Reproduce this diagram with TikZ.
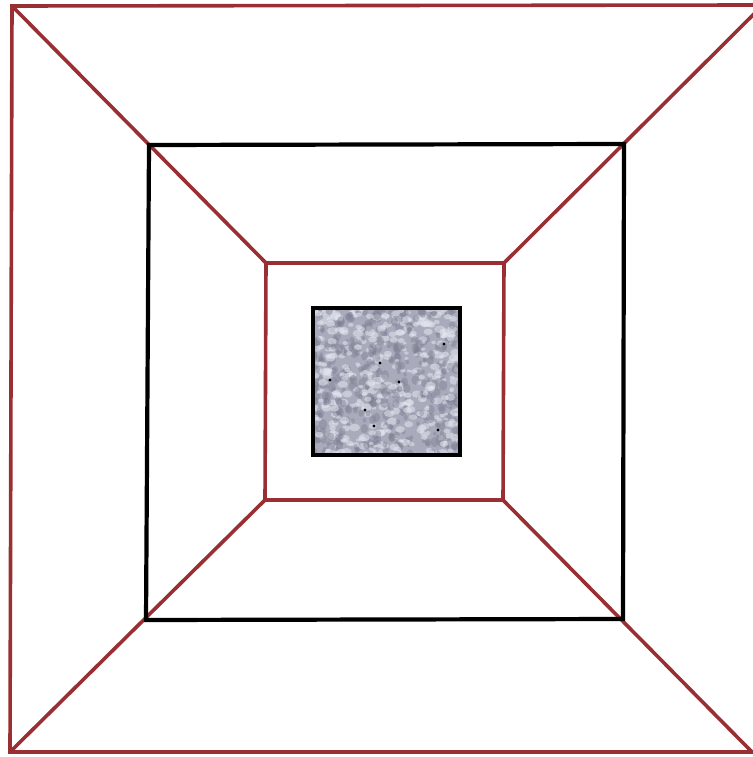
\documentclass[tikz,border=0pt]{standalone}
\begin{document}
\begin{tikzpicture}[x=1pt,y=-1pt,
  redline/.style={draw=frame,line width=3.6pt,line join=miter},
  blackline/.style={draw=black,line width=4.2pt,line join=miter}]
\definecolor{frame}{HTML}{9A2F33}
\definecolor{grain}{HTML}{A9ABBC}
\definecolor{graindark}{HTML}{7E8194}
\definecolor{grainlight}{HTML}{E2E4EE}
\useasboundingbox (0,0) rectangle (752,757);
% corner coordinates
\coordinate (o1) at (12,6);
\coordinate (o2) at (756,5);
\coordinate (o2d) at (763,5);
\coordinate (o3) at (756,752);
\coordinate (o3d) at (752,752);
\coordinate (o4) at (10,752);
\coordinate (b1) at (149,145);
\coordinate (b2) at (624,144);
\coordinate (b3) at (623,619);
\coordinate (b4) at (146,620);
\coordinate (r1) at (266,263);
\coordinate (r2) at (504,263);
\coordinate (r3) at (503,500);
\coordinate (r4) at (265,500);
% diagonals
\draw[redline] (o1) -- (r1);
\draw[redline] (o2d) -- (r2);
\draw[redline] (o3d) -- (r3);
\draw[redline] (o4) -- (r4);
% outer frame (right side runs off the picture)
\draw[redline] (o2) -- (o1) -- (o4) -- (o3);
% black square
\draw[blackline] (b1) -- (b2) -- (b3) -- (b4) -- cycle;
% inner red
\draw[redline] (r1) -- (r2) -- (r3) -- (r4) -- cycle;
% textured square
\coordinate (g1) at (313,308);
\coordinate (g2) at (460,455);
\begin{scope}
\clip (g1) rectangle (g2);
\fill[grain] (g1) rectangle (g2);
\pgfmathsetseed{4242}
\foreach \i in {1,...,800}{
  \pgfmathsetmacro{\px}{313+147*rnd}
  \pgfmathsetmacro{\py}{308+147*rnd}
  \pgfmathsetmacro{\rr}{2+3.5*rnd}
  \pgfmathsetmacro{\cc}{100*rnd}
  \ifdim\cc pt<50pt
    \fill[grainlight,opacity=0.55] (\px,\py) ellipse ({\rr} and {0.7*\rr});
  \else
    \fill[graindark,opacity=0.45] (\px,\py) ellipse ({0.8*\rr} and {\rr});
  \fi
}
\foreach \q in {(380,363),(399,382),(330,380),(365,410),(374,426),(444,344),(438,430),(462,410)}
  \fill[black] \q circle (1.6);
\end{scope}
\draw[blackline] (g1) rectangle (g2);
\end{tikzpicture}
\end{document}
